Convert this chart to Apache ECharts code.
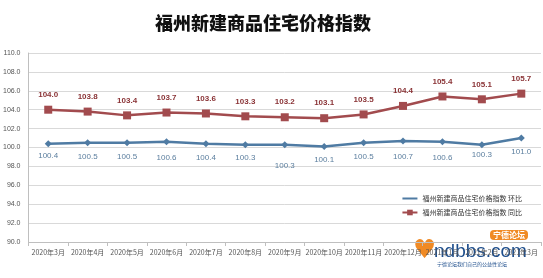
<!DOCTYPE html>
<html><head><meta charset="utf-8">
<script src="https://cdn.jsdelivr.net/npm/echarts@6/dist/echarts.min.js"></script>
<style>html,body{margin:0;padding:0;background:#fff}#c{width:543px;height:278px}</style>
</head><body><div id="c"></div>
<script>
var categories = ['2020年3月','2020年4月','2020年5月','2020年6月','2020年7月','2020年8月','2020年9月','2020年10月','2020年11月','2020年12月','2021年1月','2021年2月','2021年3月'];
var huanbi = [100.4,100.5,100.5,100.6,100.4,100.3,100.3,100.1,100.5,100.7,100.6,100.3,101.0];
var tongbi = [104.0,103.8,103.4,103.7,103.6,103.3,103.2,103.1,103.5,104.4,105.4,105.1,105.7];
var name1 = '福州新建商品住宅价格指数 环比';
var name2 = '福州新建商品住宅价格指数 同比';
var titleText = '福州新建商品住宅价格指数';
var blueDist = [5,7,7,8,7,6,14,6,7,8,8,3,6];

var chart = echarts.init(document.getElementById('c'));
chart.setOption({
  animation:false,
  backgroundColor:'#fff',
  title:{text:titleText,left:258,top:9,textAlign:'center',
    textStyle:{fontSize:18,fontWeight:900,color:'#111',fontFamily:'Noto Sans CJK SC'}},
  grid:{left:28,right:2,top:53,bottom:36},
  legend:{orient:'vertical',right:16,top:190,itemGap:7,itemWidth:15,itemHeight:7,
    textStyle:{fontSize:7,color:'#333',fontFamily:'Noto Sans CJK SC'},
    data:[{name:name1,itemStyle:{opacity:0}},{name:name2}]},
  xAxis:{type:'category',data:categories,boundaryGap:true,
    axisLine:{lineStyle:{color:'#bfbfbf'}},
    axisTick:{show:true,length:4,lineStyle:{color:'#bfbfbf'}},
    axisLabel:{fontSize:7,color:'#555',margin:7,interval:0,fontFamily:'Noto Sans CJK SC'}},
  yAxis:{type:'value',min:90,max:110,interval:2,
    axisLine:{show:true,lineStyle:{color:'#bfbfbf'}},
    axisTick:{show:false},
    splitLine:{lineStyle:{color:'#d9d9d9'}},
    axisLabel:{fontSize:7,color:'#555',margin:8,formatter:function(v){return v.toFixed(1);}}},
  series:[
    {name:name1,type:'line',data:huanbi.map(function(v,i){return {value:v,label:{distance:blueDist[i]}};}),
      symbol:'diamond',symbolSize:7,
      lineStyle:{color:'#4F7BA3',width:2.5},itemStyle:{color:'#4F7BA3'},
      label:{show:true,position:'bottom',fontSize:8,color:'#5B7E9E',formatter:function(p){return p.value.toFixed(1);}}},
    {name:name2,type:'line',data:tongbi,symbol:'rect',symbolSize:8,
      lineStyle:{color:'#A24B4E',width:2.5},itemStyle:{color:'#A24B4E'},
      label:{show:true,position:'top',distance:7,fontSize:8,fontWeight:'bold',color:'#8A3336',formatter:function(p){return p.value.toFixed(1);}}}
  ],
  graphic:[
    {type:'text',left:413,top:238,style:{text:'♥',fontSize:26,fill:'#F08A24',fontFamily:'DejaVu Sans'}},
    {type:'text',left:434,top:242,style:{text:'ndbbs.com',fontSize:19,fill:'#1E4E8C',fontFamily:'Liberation Sans'}},
    {type:'text',left:490,top:230,style:{text:'宁德论坛',fontSize:8,fontWeight:'bold',fill:'#fff',backgroundColor:'#F08A24',padding:[1,3],borderRadius:4,fontFamily:'Noto Sans CJK SC'}},
    {type:'text',left:437,top:262,style:{text:'宁德论坛我们自己的公益性论坛',fontSize:5,fill:'#1E4E8C',fontFamily:'Noto Sans CJK SC'}}
  ]
});
</script></body></html>
